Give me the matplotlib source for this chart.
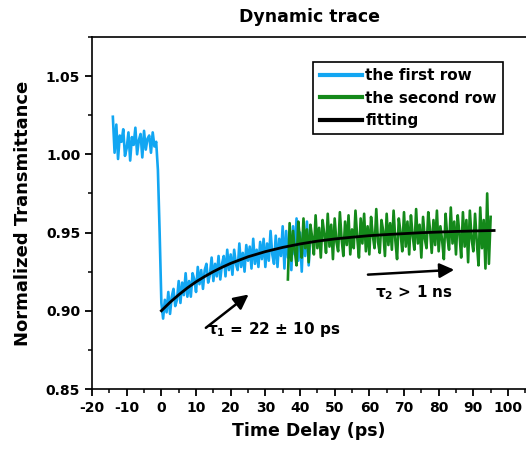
import numpy as np
import matplotlib
matplotlib.use("Agg")
import matplotlib.pyplot as plt
import matplotlib.ticker as mticker

plt.rcParams["font.family"] = ["DejaVu Sans"]
plt.rcParams["font.weight"] = "bold"
plt.rcParams["axes.unicode_minus"] = False
plt.rcParams["mathtext.fontset"] = "custom"
plt.rcParams["mathtext.rm"] = "DejaVu Sans:bold"
plt.rcParams["mathtext.it"] = "DejaVu Sans:bold"
plt.rcParams["mathtext.bf"] = "DejaVu Sans:bold"

# first row trace: starts at -14 ps, 0.5 ps steps
first_start = -14.0
first_step = 0.5
first_row = [
    1.024, 1.001, 1.019, 0.997, 1.012, 1.008, 1.016, 0.999, 1.004, 1.014,
    0.996, 1.011, 1.006, 1.017, 1.000, 1.009, 1.013, 0.998, 1.015, 1.003,
    1.010, 1.012, 1.001, 1.014, 1.005, 1.008,
    0.990, 0.950, 0.905,
    0.895, 0.907, 0.899, 0.912, 0.898, 0.909, 0.914, 0.903, 0.907, 0.919,
    0.905, 0.918, 0.910, 0.924, 0.909, 0.919, 0.909, 0.924, 0.920, 0.912,
    0.928, 0.917, 0.926, 0.914, 0.926, 0.930, 0.918, 0.923, 0.934, 0.919,
    0.930, 0.922, 0.935, 0.920, 0.930, 0.935, 0.922, 0.939, 0.926, 0.936,
    0.923, 0.939, 0.930, 0.926, 0.943, 0.928, 0.937, 0.925, 0.942, 0.932,
    0.941, 0.927, 0.946, 0.930, 0.939, 0.928, 0.944, 0.933, 0.946, 0.928,
    0.943, 0.932, 0.951, 0.936, 0.930, 0.948, 0.928, 0.946, 0.935, 0.954,
    0.927, 0.951, 0.934, 0.946, 0.926, 0.954, 0.936, 0.959, 0.932, 0.950,
    0.925, 0.954, 0.935, 0.957, 0.929, 0.950,
]

# second row trace: starts at 36.5 ps, 0.5 ps steps
second_start = 36.5
second_step = 0.5
second_row = [
    0.920, 0.956, 0.932, 0.951, 0.938, 0.929, 0.957, 0.945, 0.934, 0.959,
    0.940, 0.952, 0.931, 0.955, 0.947, 0.936, 0.961, 0.940, 0.953, 0.934,
    0.958, 0.949, 0.937, 0.962, 0.941, 0.955, 0.933, 0.959, 0.944, 0.938,
    0.963, 0.946, 0.935, 0.957, 0.942, 0.961, 0.936, 0.952, 0.940, 0.964,
    0.947, 0.934, 0.959, 0.943, 0.962, 0.938, 0.954, 0.936, 0.960, 0.948,
    0.940, 0.965, 0.944, 0.937, 0.958, 0.951, 0.935, 0.962, 0.942, 0.956,
    0.939, 0.964, 0.945, 0.933, 0.959, 0.950, 0.938, 0.963, 0.941, 0.957,
    0.936, 0.961, 0.948, 0.939, 0.965, 0.943, 0.955, 0.934, 0.960, 0.946,
    0.940, 0.963, 0.952, 0.937, 0.958, 0.942, 0.964, 0.938, 0.954, 0.945,
    0.933, 0.962, 0.947, 0.939, 0.966, 0.943, 0.957, 0.936, 0.961, 0.949,
    0.934, 0.963, 0.941, 0.958, 0.931, 0.964, 0.946, 0.938, 0.962, 0.944,
    0.929, 0.966, 0.940, 0.958, 0.927, 0.975, 0.930, 0.960,
]

# fitted curve
fit_t = [0, 2.5, 5, 7.5, 10, 12.5, 15, 17.5, 20, 25, 30, 35, 40, 45, 50,
         55, 60, 65, 70, 75, 80, 85, 90, 96]
fit_y = [0.900, 0.9054, 0.9102, 0.9146, 0.9185, 0.9219, 0.925, 0.9278,
         0.9303, 0.9345, 0.9378, 0.9405, 0.9427, 0.9445, 0.9459, 0.947,
         0.948, 0.9487, 0.9493, 0.9499, 0.9503, 0.9507, 0.951, 0.9513]

t_first = first_start + first_step * np.arange(len(first_row))
t_second = second_start + second_step * np.arange(len(second_row))

fig = plt.figure(figsize=(5.26, 4.59), dpi=100)
ax = fig.add_axes([0.175, 0.1525, 0.825, 0.767])

ax.plot(t_first, first_row, color="#12A6F2", lw=1.9, label="the first row")
ax.plot(t_second, second_row, color="#14891A", lw=1.9, label="the second row")
ax.plot(fit_t, fit_y, color="black", lw=2.0, label="fitting", zorder=5)

ax.annotate("", xy=(25.8, 0.9115), xytext=(12.2, 0.888),
            arrowprops=dict(arrowstyle="-|>", mutation_scale=22, lw=1.8,
                            color="black"))
ax.annotate("", xy=(85.3, 0.9263), xytext=(58.8, 0.923),
            arrowprops=dict(arrowstyle="-|>", mutation_scale=22, lw=1.8,
                            color="black"))
ax.text(13.3, 0.888, r"$\tau_1$ = 22 ± 10 ps", fontsize=11, fontweight="bold",
        va="center", ha="left")
ax.text(61.5, 0.9115, r"$\tau_2$ > 1 ns", fontsize=11, fontweight="bold",
        va="center", ha="left")

ax.set_xlim(-20, 105.2)
ax.set_ylim(0.85, 1.075)
ax.xaxis.set_major_locator(mticker.MultipleLocator(10))
ax.xaxis.set_minor_locator(mticker.MultipleLocator(5))
ax.yaxis.set_major_locator(mticker.MultipleLocator(0.05))
ax.yaxis.set_minor_locator(mticker.MultipleLocator(0.025))
ax.yaxis.set_major_formatter(mticker.FormatStrFormatter("%.2f"))
ax.tick_params(which="major", direction="out", length=5, width=1.3,
               labelsize=10, top=False, right=False)
ax.tick_params(which="minor", direction="out", length=3, width=1.1,
               top=False, right=False)
for lab in ax.get_xticklabels() + ax.get_yticklabels():
    lab.set_fontweight("bold")

ax.spines["right"].set_visible(False)
for s in ["left", "bottom", "top"]:
    ax.spines[s].set_linewidth(1.2)

ax.set_xlabel("Time Delay (ps)", fontsize=12.5, fontweight="bold", labelpad=5)
ax.set_ylabel("Normalized Transmittance", fontsize=13, fontweight="bold",
              labelpad=10)
ax.set_title("Dynamic trace", fontsize=12.5, fontweight="bold", pad=11)

leg = ax.legend(loc="upper right", bbox_to_anchor=(0.947, 0.929),
                borderaxespad=0, fontsize=11, handlelength=2.8,
                handletextpad=0.2, labelspacing=0.5, borderpad=0.4,
                fancybox=False, framealpha=1, edgecolor="black")
leg.get_frame().set_linewidth(1.2)
for line in leg.get_lines():
    line.set_linewidth(3)

fig.savefig("out.png", dpi=100)
